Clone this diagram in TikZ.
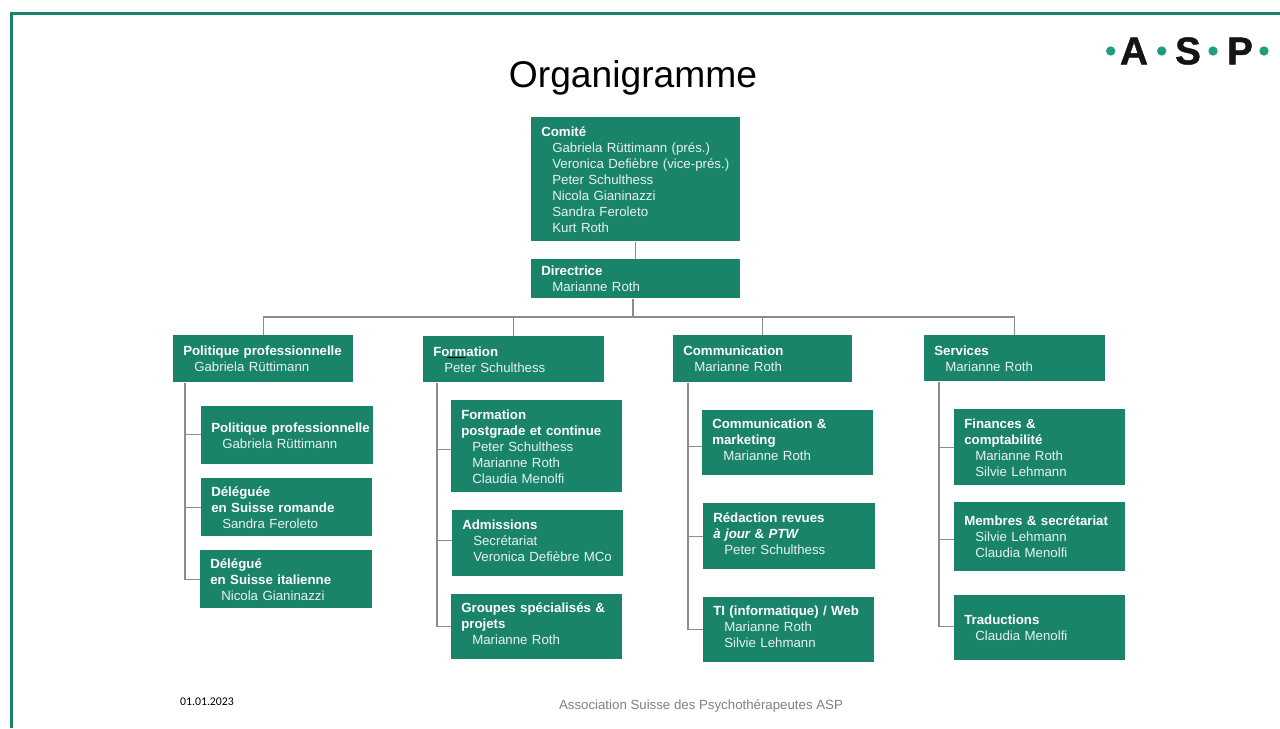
\documentclass[tikz,border=0pt]{standalone}
\usepackage{fontspec}
\setmainfont{Liberation Sans}
\newfontfamily\datefont{Carlito}
\newfontfamily\logofont{Liberation Sans}[BoldFeatures={FakeBold=1.1}]
\usetikzlibrary{positioning}

\definecolor{aspgreen}{HTML}{1A846B}
\definecolor{aspdot}{HTML}{1F9E7F}
\definecolor{asptext}{HTML}{E6F3EF}

\newcommand{\orghead}[1]{\mbox{\bfseries\color{white}#1}}
\newcommand{\orgname}[1]{\mbox{\hspace{8.25pt}#1}}
\newcommand{\orgup}{\par\vspace{4.5pt}}

\tikzset{
  orgbox/.style 2 args={anchor=north west, fill=aspgreen, text=asptext, inner xsep=7.5pt, inner ysep=0pt,
    minimum width=#1*0.75pt, minimum height=#2*0.75pt, text width=(#1-20)*0.75pt, align=left,
    font=\fontsize{9.95}{12}\selectfont, execute at end node={\par\vspace{-0.2pt}}},
  orgline/.style={draw=black!45, line width=1pt},
  logoletter/.style={font=\logofont\fontsize{29}{29}\selectfont\bfseries, text=black!92, inner sep=0pt},
  logodot/.style={circle, fill=aspdot, minimum size=7pt, inner sep=0pt}
}

\begin{document}
\begin{tikzpicture}[x=0.75pt, y=-0.75pt]

\useasboundingbox (0,0) rectangle (1280,728);

% frame
\draw [aspgreen, line width=2.2pt] (11.5,728) -- (11.5,13.5) -- (1280,13.5);

\node [font=\fontsize{27.9}{30}\selectfont] (title) at (633,78) {Organigramme};

% logo
\foreach \m/\x in {1/1110.7,2/1161.7,3/1213,4/1264}
  \node [logodot] (dot-\m) at (\x,51) {};
\foreach \l/\x in {A/1134,S/1188,P/1240}
  \node [logoletter] (logo-\l) at (\x,51) {\l};

% top
\node [orgbox={209}{124}] (comite) at (531,117) {\orghead{Comité}\\
  \orgname{Gabriela Rüttimann (prés.)}\\
  \orgname{Veronica Defièbre (vice-prés.)}\\
  \orgname{Peter Schulthess}\\
  \orgname{Nicola Gianinazzi}\\
  \orgname{Sandra Feroleto}\\
  \orgname{Kurt Roth}};
\node [orgbox={209}{39}] (directrice) at (531,259) {\orghead{Directrice}\\ \orgname{Marianne Roth}};

% departments
\node [orgbox={180}{47}] (pol) at (173,335) {\orghead{Politique professionnelle}\\ \orgname{Gabriela Rüttimann}};
\node [orgbox={181}{46}] (form) at (423,336) {\orghead{Formation}\\ \orgname{Peter Schulthess}};
\node [orgbox={179}{47}] (comm) at (673,335) {\orghead{Communication}\\ \orgname{Marianne Roth}};
\node [orgbox={181}{46}] (serv) at (924,335) {\orghead{Services}\\ \orgname{Marianne Roth}};

% politique
\node [orgbox={172}{58}] (pol-1) at (201,406) {\orghead{Politique professionnelle}\\ \orgname{Gabriela Rüttimann}};
\node [orgbox={171}{58}] (pol-2) at (201,478) {\orghead{Déléguée}\\ \orghead{en Suisse romande}\\ \orgname{Sandra Feroleto}};
\node [orgbox={172}{58}] (pol-3) at (200,550) {\orghead{Délégué}\\ \orghead{en Suisse italienne}\\ \orgname{Nicola Gianinazzi}};

% formation
\node [orgbox={171}{92}] (form-1) at (451,400) {\orghead{Formation}\\ \orghead{postgrade et continue}\\
  \orgname{Peter Schulthess}\\ \orgname{Marianne Roth}\\ \orgname{Claudia Menolfi}};
\node [orgbox={171}{66}] (form-2) at (452,510) {\orghead{Admissions}\\ \orgname{Secrétariat}\\ \orgname{Veronica Defièbre MCo}\orgup};
\node [orgbox={171}{65}] (form-3) at (451,594) {\orghead{Groupes spécialisés \&}\\ \orghead{projets}\\ \orgname{Marianne Roth}\orgup};

% communication
\node [orgbox={171}{65}] (comm-1) at (702,410) {\orghead{Communication \&}\\ \orghead{marketing}\\ \orgname{Marianne Roth}\orgup};
\node [orgbox={172}{66}] (comm-2) at (703,503) {\orghead{Rédaction revues}\\ \orghead{\itshape à jour \upshape\& \itshape PTW}\\ \orgname{Peter Schulthess}\orgup};
\node [orgbox={171}{65}] (comm-3) at (703,597) {\orghead{TI (informatique) / Web}\\ \orgname{Marianne Roth}\\ \orgname{Silvie Lehmann}\orgup};

% services
\node [orgbox={171}{76}] (serv-1) at (954,409) {\orghead{Finances \&}\\ \orghead{comptabilité}\\ \orgname{Marianne Roth}\\ \orgname{Silvie Lehmann}};
\node [orgbox={171}{69}] (serv-2) at (954,502) {\orghead{Membres \& secrétariat}\\ \orgname{Silvie Lehmann}\\ \orgname{Claudia Menolfi}};
\node [orgbox={171}{65}] (serv-3) at (954,595) {\orghead{Traductions}\\ \orgname{Claudia Menolfi}};

% connectors
\draw [orgline] (comite) -- (directrice);
\coordinate (bus) at (633,317);
\draw [orgline] (directrice.south -| bus) -- (bus);
\draw [orgline] (bus -| pol.north) -- (bus -| serv.north);
\foreach \n in {pol,form,comm,serv}
  \draw [orgline] (bus -| \n.north) -- (\n.north);

\foreach \n/\d/\a/\b/\c in {pol/12/0.75pt/0pt/0pt, form/14/-2.25pt/2.25pt/0pt, comm/15/-2.6pt/0pt/0pt, serv/15/0pt/-1.9pt/1.1pt} {
  \draw [orgline] (\n.south west) ++(\d,0) |- ([yshift=\a]\n-1.west);
  \draw [orgline] (\n.south west) ++(\d,0) |- ([yshift=\b]\n-2.west);
  \draw [orgline] (\n.south west) ++(\d,0) |- ([yshift=\c]\n-3.west);
}

% stray mark in the box
\draw [black, line width=0.5pt] (447,357.5) -- (466,357.5);

% footer
\node [font=\datefont\fontsize{8.85}{10}\selectfont] (date) at (207,702) {01.01.2023};
\node [font=\fontsize{9.95}{12}\selectfont, text=black!50] (footer) at (701,706) {Association Suisse des Psychothérapeutes ASP};

\end{tikzpicture}
\end{document}
